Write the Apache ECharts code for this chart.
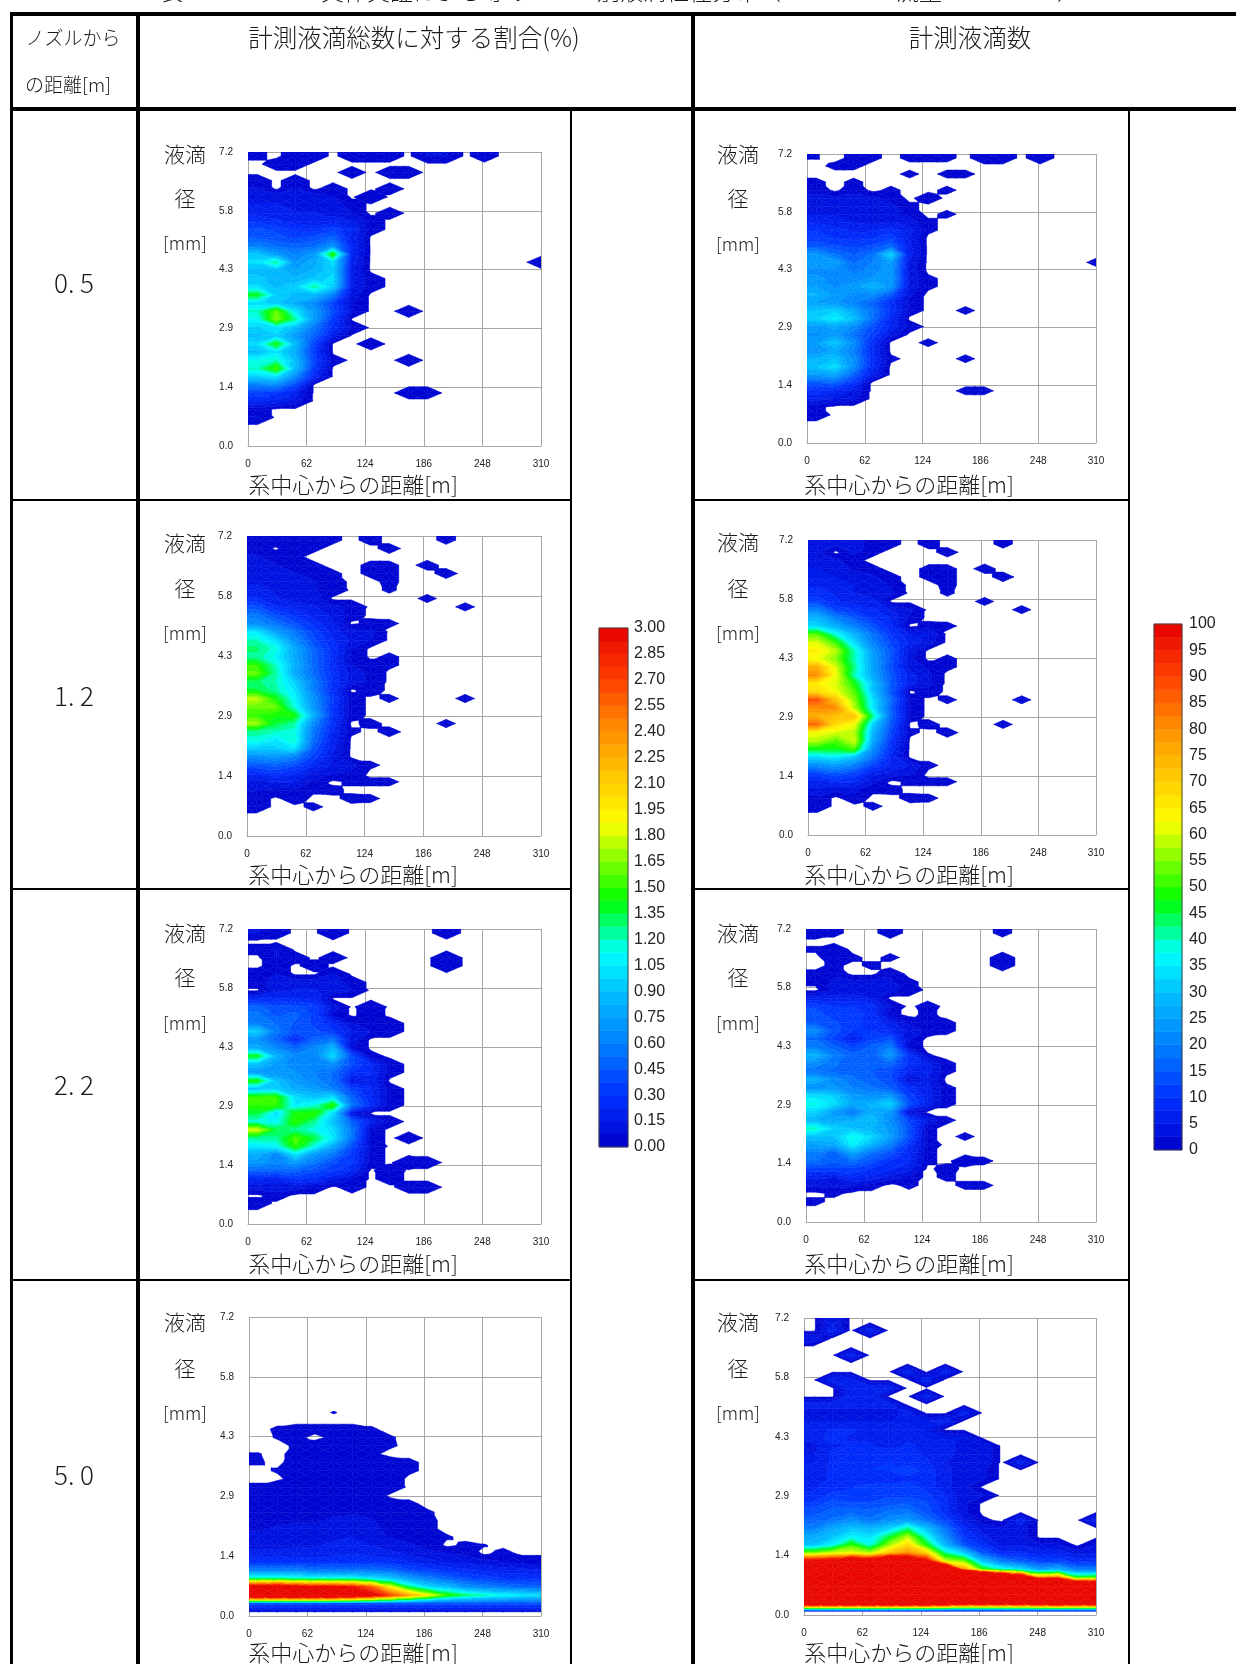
<!DOCTYPE html>
<html><head><meta charset="utf-8">
<style>html,body{margin:0;padding:0;background:#fff}#c{width:1236px;height:1664px}</style>
<script src="https://cdn.jsdelivr.net/npm/echarts@6/dist/echarts.min.js"></script>
</head><body><div id="c"></div>
<script>
// Rows run from y = 7.1 mm down to 0.1 mm in 0.2 steps; columns from x = 10 m to 310 m in 20 steps.
const xNodes=[10,30,50,70,90,110,130,150,170,190,210,230,250,270,290,310];
const yNodes=[7.1,6.9,6.7,6.5,6.3,6.1,5.9,5.7,5.5,5.3,5.1,4.9,4.7,4.5,4.3,4.1,3.9,3.7,3.5,3.3,3.1,2.9,2.7,2.5,2.3,2.1,1.9,1.7,1.5,1.3,1.1,0.9,0.7,0.5,0.3,0.1];
const xTicksMax=310, yTicksMax=7.2;
const distanceLabels=['0. 5','1. 2','2. 2','5. 0'];

// share of all measured droplets, in hundredths of a percent
const pct05=[[2,0,4,4,0,4,4,4,0,8,8,0,4],[0,4,4],[0,0,0,0,0,4,0,4,4],[4,0,4],[8,0,8,0,4,0,0,4],[12,12,12,12,8,0,8],[16,16,12,12,12,4],[20,20,16,16,12,8,0,4],[28,24,20,16,20,16,4],[40,36,28,28,36,24,4],[44,40,36,40,48,20],[60,52,48,52,68,24],[92,72,60,72,150,24],[100,125,68,80,100,20,0,0,0,0,0,0,0,0,0,4],[88,88,76,84,96,16],[92,88,84,92,100,16,4],[100,88,96,125,96,16,4],[140,96,88,88,60,12],[100,92,80,64,36,8],[120,160,105,72,40,8,0,0,4],[110,165,125,72,32],[96,104,88,56,28,8],[88,96,72,48,16],[100,145,88,36,0,0,4],[88,104,80,32],[112,120,88,36,4,0,0,0,4],[120,155,88,32],[96,104,64,24],[60,64,40],[36,32,20,0,0,0,0,0,4,4],[24,20,12],[4],[8]];
const pct12=[[6,6,6,4,2,0,2.5,0,0,0,2],[6,0,6,2,0,0,0,2.5],[8,6,2],[10,8,4,2,0,0,2,2,0,2.5],[10,10,8,6,2,0,2,2,0,0,2.5],[14,12,10,8,4,0,0,2],[18,14,10,8,6,0,0,1.6],[24,16,12,12,0,0,0,0,0,2],[40,24,20,16,10,6,0,0,0,0,0,2],[56,40,30,20,14,4],[66,54,40,28,16,0,2.5,2],[104,76,56,36,20,10,10],[120,100,66,40,24,14,8],[130,116,80,48,28,8],[124,110,80,50,28,6,0,2],[150,120,84,50,26,8,4,2],[160,124,80,52,28,12,6],[130,120,96,60,30,12,6],[136,124,104,60,28,0,4],[176,144,110,68,34,4,0,2,0,0,0,2],[160,160,116,70,30,4],[150,144,144,84,32,4],[170,136,124,64,28,0,2.5,0,0,0,2],[124,120,116,56,24,2,0,2.5],[116,104,120,52,20],[94,94,104,44,18],[66,70,60,36,14],[44,48,40,24,14,10,2],[24,30,24,12,8,6],[14,16,16,6,0,2,2,2],[8,6,6,2,2.5],[4,0,4,0,0,2.5,2],[4,0,0,2]];
const pct22=[[8,4,0,0,6,0,0,0,0,0,4],[],[3,8],[0,8,4,0,4,0,0,0,0,0,6],[0,4,0,4,0,0,0,0,0,0,6],[4,8,0,0,8],[4,12,12,12,12,4],[0,12,16,16,12,8],[24,24,24,20],[48,40,40,36,12,0,6],[56,44,48,36,6,0,4],[60,52,44,36,24,8,2,4],[95,56,40,40,32,16,8,4],[68,48,24,48,56,12],[80,64,48,64,85,8],[140,84,64,60,100,40,3],[90,72,64,60,68,40,24,4],[72,68,68,60,52,28,24,4],[145,90,72,64,52,12,20],[90,95,80,72,60,36,24,4],[150,150,100,90,100,48,24,4],[150,150,105,115,150,56,28,4],[135,100,145,150,100,12],[115,110,150,125,90,48,20,4],[180,135,125,115,100,56,4],[125,125,155,135,105,56,4,0,4],[105,110,150,115,80,40,8],[80,64,105,72,56,32,4],[72,64,72,56,40,32,4,0,8,4],[48,48,48,40,32,24,0,6],[24,20,32,28,16,8,0,4],[12,12,12,6,0,4,0,0,4,4],[0,4],[4]];
const pct50=[[],[],[],[],[],[],[],[],[],[],[],[0,0,0,0,1.2],[],[0,1.6,2.5,2.5,2.5,2.5,1.5],[0,1.3,2,0,2,2.5,1.6,1.4],[0,0,1.6,3,3,3,2.5,1.6],[1.2,0,2.5,3,3,3,1.8],[1.5,0,3,4,4,4,4,3,2],[0,1.5,4,4,4,4,4,4,2],[0,0,3,4,4,4,4,4],[2,5,5,5,5,5,5,5],[3,5,5,5,5,5,5],[4,5,6,6,6,6,6,4,2],[5,6,6,6,7,7,6,5,3,1.5],[6,7,7,7,8,9,8,5,3,2],[7,8,9,9,11,12,9,6,4,2],[9,10,12,11,13,15,10,7,5,4,1.5],[12,12,14,14,17,19,15,11,9,5,0,2,1.2],[18,18,18,18,20,22,20,18,14,10,8,6,0,3],[30,30,30,28,30,30,30,28,22,18,14,14,10,8,5,5],[60,60,60,55,55,55,55,50,40,35,28,25,22,18,18,16],[125,125,120,115,115,115,105,95,75,60,50,40,35,30,30,28],[320,330,310,300,300,290,260,190,130,100,88,70,60,55,50,48],[360,360,360,360,360,340,310,270,230,190,150,130,120,110,105,100],[40,40,40,40,40,40,40,40,40,40,40,40,40,40,40,40],[5,5,5,5,5,5,5,5,5,5,5,5,5,5,5,5]];

// measured droplet counts
const cnt05=[[.6,0,1,1,0,1,1,1,0,2,2,0,2],[0,1,1],[0,0,0,0,0,1,0,1,1],[1,0,1],[2,0,2,0,1,0,0,1],[3,3,3,3,2,0,2],[4,4,3,3,3,1],[5,5,4,4,3,2,0,1],[7,6,5,4,5,4,1],[10,9,7,7,9,6,1],[11,10,9,10,12,5],[15,13,12,13,17,6],[23,18,15,18,33,6],[24,25,17,20,25,5,0,0,0,0,0,0,0,0,0,1],[22,22,19,21,24,4],[23,22,21,23,25,4,1],[25,22,24,28,24,4,1],[28,24,22,22,15,3],[25,23,20,16,9,2],[30,32,26,18,10,2,0,0,1],[32,36,30,18,8],[24,26,22,14,7,2],[22,24,18,12,4],[25,31,22,9,0,0,1],[22,26,20,8],[28,30,22,9,1,0,0,0,1],[30,34,22,8],[24,26,16,6],[15,16,10],[9,8,5,0,0,0,0,0,1,1],[6,5,3],[1],[2]];
const cnt12=[[3,3,3,2,1,0,1.2,0,0,0,1],[3,0,3,1,0,0,0,1.2],[4,3,1],[5,4,2,1,0,0,1,1,0,1.2],[5,5,4,3,1,0,1,1,0,0,1.2],[7,6,5,4,2,0,0,1],[9,7,5,4,3,0,0,.8],[12,8,6,6,0,0,0,0,0,1],[20,12,10,8,5,3,0,0,0,0,0,1],[28,20,15,10,7,2],[33,27,20,14,8,0,1.2,1],[52,38,28,18,10,5,5],[60,50,33,20,12,7,4],[65,58,40,24,14,4],[62,55,40,25,14,3,0,1],[75,60,42,25,13,4,2,1],[80,62,40,26,14,6,3],[65,60,48,30,15,6,3],[68,62,52,30,14,0,2],[88,72,55,34,17,2,0,1,0,0,0,1],[80,80,58,35,15,2],[75,72,72,42,16,2],[85,68,62,32,14,0,1.2,0,0,0,1],[62,60,58,28,12,1,0,1.2],[58,52,60,26,10],[47,47,52,22,9],[33,35,30,18,7],[22,24,20,12,7,5,1],[12,15,12,6,4,3],[7,8,8,3,0,1,1,1],[4,3,3,1,1.2],[2,0,2,0,0,1.2,1],[2,0,0,1]];
const cnt22=[[2,1,0,0,1.5,0,0,0,0,0,1],[],[.8,2],[0,2,1,0,1,0,0,0,0,0,1.5],[0,1,0,1,0,0,0,0,0,0,1.5],[1,2,0,0,2],[1,3,3,3,3,1],[0,3,4,4,3,2],[6,6,6,5],[12,10,10,9,3,0,1.5],[14,11,12,9,1.2,0,1],[15,13,11,9,6,2,.5,1],[22,14,10,10,8,4,2,1],[17,12,6,12,14,3],[20,16,12,16,20,2],[28,20,16,15,24,10,.7],[22,18,16,15,17,10,6,1],[18,17,17,15,13,7,6,1],[28,22,18,16,13,3,5],[22,23,20,18,15,9,6,1],[34,32,24,22,24,12,6,1],[38,34,26,28,33,14,7,1],[32,24,18,27,24,3],[28,26,27,30,22,12,5,1],[40,32,30,28,24,14,1],[30,30,38,33,25,14,1,0,1],[25,26,36,28,20,10,2],[20,16,26,18,14,8,1],[18,16,18,14,10,8,1,0,2,1],[12,12,12,10,8,6,0,1.5],[6,5,8,7,4,2,0,1],[3,3,3,1.5,0,1,0,0,1,1],[0,1],[1]];
const cnt50=[[0,5],[0,7,0,7],[5],[],[0,0,7],[],[0,0,0,0,0,7,0,7],[0,7,7,0,0,0,7],[0,0,7,7,7],[0,0,7,7,0,0,7],[7,7,7,7,7],[3,3,3,3,3,7,0,0,7],[5,5,5,5,5,5,5,7],[6,8,8,6,6,6,5],[6,9,7,7,6,7,5,5,5],[4,7,8,8,6,8,7,6,4,5],[5,8,8,9,10,9,7,6,4,5],[5,8,8,8,10,9,8,5,4,5,0,7],[6,8,10,10,10,12,9,6,3,3],[6,8,9,8,9,9,9,6,3,3],[7,9,10,11,11,12,9,6,3],[8,11,10,10,12,12,11,8,3,3],[11,14,13,13,14,15,13,8,3],[14,16,17,16,18,19,14,9,3],[16,18,22,18,22,24,18,12,5,1,0,7,0,0,0,7],[20,26,30,28,32,42,30,18,8,4,3,4],[26,30,36,34,45,58,38,22,10,6,3,4],[30,36,50,38,56,68,48,28,14,9,4,5,3,3,0,3],[55,60,62,58,72,80,70,42,32,15,8,8,7,7,4,5],[105,110,125,115,140,125,105,60,55,30,20,16,12,12,9,9],[300,300,300,300,300,300,300,150,80,50,40,35,25,28,20,20],[300,300,300,300,300,300,300,300,300,200,160,130,80,85,50,52],[300,300,300,300,300,300,300,300,300,300,300,300,300,300,150,150],[300,300,300,300,300,300,300,300,300,300,300,300,300,300,300,300],[130,130,130,130,130,130,130,125,115,115,115,115,120,125,120,120],[5,5,5,5,5,5,5,5,5,5,5,5,5,5,5,5]];

const pctScaleTop=300, cntScaleTop=100, bandCount=40;

const anchors=[[0,[0,0,204]],[.1,[0,48,255]],[.2,[0,128,255]],[.3,[0,192,255]],[.375,[0,255,255]],[.475,[0,255,0]],[.625,[255,255,0]],[.8,[255,144,0]],[.9,[255,64,0]],[1,[230,0,0]]];
function colorAt(t){
  for(let i=1;i<anchors.length;i++){
    if(t<=anchors[i][0]){
      const a=anchors[i-1],b=anchors[i],f=(t-a[0])/(b[0]-a[0]);
      return 'rgb('+a[1].map((c,k)=>Math.round(c+(b[1][k]-c)*f)).join(',')+')';
    }
  }
  return 'rgb(230,0,0)';
}
const bandColors=[];
for(let i=0;i<bandCount;i++) bandColors.push(colorAt((i+.5)/bandCount));

function clipAt(poly,level,keepAbove){
  const out=[];
  for(let i=0;i<poly.length;i++){
    const p=poly[i],q=poly[(i+1)%poly.length];
    const pIn=keepAbove?p[2]>=level:p[2]<=level, qIn=keepAbove?q[2]>=level:q[2]<=level;
    if(pIn) out.push(p);
    if(pIn!==qIn){
      const f=(level-p[2])/(q[2]-p[2]);
      out.push([p[0]+(q[0]-p[0])*f,p[1]+(q[1]-p[1])*f,level]);
    }
  }
  return out;
}
function cellsOf(table){
  const val=(r,c)=>{const row=table[Math.max(r,0)]||[];return row[Math.max(c,0)]||0;};
  const xs=[0].concat(xNodes), ys=[yTicksMax].concat(yNodes), cells=[];
  for(let r=0;r<ys.length-1;r++){
    for(let c=0;c<xs.length-1;c++){
      cells.push([xs[c],ys[r+1],xs[c+1],ys[r],
        val(r,c-1),val(r,c),val(r-1,c),val(r-1,c-1)]);
    }
  }
  return cells;
}
function fieldRenderer(scaleTop,floor){
  const step=scaleTop/bandCount;
  return function(params,api){
    const v=[api.value(4),api.value(5),api.value(6),api.value(7)];
    if(Math.max(v[0],v[1],v[2],v[3])<=floor) return null;
    const a=api.coord([api.value(0),api.value(1)]),c=api.coord([api.value(2),api.value(3)]);
    const P=[[a[0],a[1],v[0]],[c[0],a[1],v[1]],[c[0],c[1],v[2]],[a[0],c[1],v[3]]];
    const sorted=v.slice().sort((m,n)=>m-n);
    const E=[(a[0]+c[0])/2,(a[1]+c[1])/2,(sorted[1]+sorted[2])/2];
    const children=[];
    for(let t=0;t<4;t++){
      const tri=[P[t],P[(t+1)%4],E];
      const tMin=Math.min(tri[0][2],tri[1][2],tri[2][2]),tMax=Math.max(tri[0][2],tri[1][2],tri[2][2]);
      if(tMax<=floor) continue;
      for(let b=0;b<bandCount;b++){
        const lo=Math.max(floor,b*step),hi=b===bandCount-1?Infinity:(b+1)*step;
        if(hi<=lo||hi<tMin||lo>tMax) continue;
        let poly=clipAt(tri,lo,true);
        if(hi!==Infinity&&poly.length) poly=clipAt(poly,hi,false);
        if(poly.length<3) continue;
        children.push({type:'polygon',shape:{points:poly.map(p=>[p[0],p[1]])},
          style:{fill:bandColors[b],stroke:bandColors[b],lineWidth:.5},silent:true});
      }
    }
    return {type:'group',children};
  };
}

const plots=[
 {t:pct05,top:pctScaleTop,floor:1,box:[248,152,541,446]},
 {t:cnt05,top:cntScaleTop,floor:.5,box:[807,154,1096,443]},
 {t:pct12,top:pctScaleTop,floor:1,box:[247,536,541,836]},
 {t:cnt12,top:cntScaleTop,floor:.5,box:[808,540,1096,835]},
 {t:pct22,top:pctScaleTop,floor:1,box:[248,929,541,1224]},
 {t:cnt22,top:cntScaleTop,floor:.5,box:[806,929,1096,1222]},
 {t:pct50,top:pctScaleTop,floor:1,box:[249,1317,541,1616]},
 {t:cnt50,top:cntScaleTop,floor:.5,box:[804,1318,1096,1615]}
];
const tickFont="'Liberation Sans Narrow','Liberation Sans',sans-serif";
const grid=[],xAxis=[],yAxis=[],series=[];
plots.forEach((p,i)=>{
  const [x0,y0,x1,y1]=p.box;
  grid.push({left:x0,top:y0,width:x1-x0,height:y1-y0,show:false});
  xAxis.push({type:'value',gridIndex:i,min:0,max:xTicksMax,interval:62,
    axisLine:{show:true,lineStyle:{color:'#a6a6a6',width:1}},axisTick:{show:false},
    splitLine:{show:true,lineStyle:{color:'#a6a6a6',width:1}},
    axisLabel:{fontSize:10,color:'#222',margin:13,fontFamily:tickFont,showMaxLabel:true,showMinLabel:true}});
  yAxis.push({type:'value',gridIndex:i,min:0,max:yTicksMax,interval:1.44,
    axisLine:{show:false},axisTick:{show:false},
    splitLine:{show:true,lineStyle:{color:'#a6a6a6',width:1}},
    axisLabel:{fontSize:10,color:'#222',margin:15,fontFamily:tickFont,showMaxLabel:true,showMinLabel:true,formatter:v=>v.toFixed(1)}});
  series.push({type:'custom',xAxisIndex:i,yAxisIndex:i,coordinateSystem:'cartesian2d',clip:true,silent:true,
    encode:{x:[0,2],y:[1,3]},data:cellsOf(p.t),renderItem:fieldRenderer(p.top,p.floor),animation:false});
});

// colour scale bars
const scaleBars=[
 {box:[599,628,628,1147],top:3,interval:.15,digits:2,margin:6},
 {box:[1154,624,1182,1150],top:100,interval:5,digits:0,margin:7}
];
scaleBars.forEach((s,k)=>{
  const idx=plots.length+k,[x0,y0,x1,y1]=s.box;
  grid.push({left:x0,top:y0,width:x1-x0,height:y1-y0,show:true,borderColor:'#444',borderWidth:1,backgroundColor:'transparent',z:5});
  xAxis.push({type:'value',gridIndex:idx,min:0,max:1,show:false});
  yAxis.push({type:'value',gridIndex:idx,min:0,max:s.top,interval:s.interval,position:'right',
    axisLine:{show:false},axisTick:{show:false},splitLine:{show:false},
    axisLabel:{fontSize:16,color:'#222',margin:s.margin,fontFamily:tickFont,showMaxLabel:true,showMinLabel:true,formatter:v=>v.toFixed(s.digits)}});
  const rows=bandColors.map((c,i)=>[0,i*s.top/bandCount,1,(i+1)*s.top/bandCount,i]);
  series.push({type:'custom',xAxisIndex:idx,yAxisIndex:idx,coordinateSystem:'cartesian2d',silent:true,animation:false,
    encode:{x:[0,2],y:[1,3]},data:rows,
    renderItem:(params,api)=>{
      const a=api.coord([api.value(0),api.value(1)]),b=api.coord([api.value(2),api.value(3)]);
      const c=bandColors[api.value(4)];
      return {type:'rect',shape:{x:a[0],y:b[1],width:b[0]-a[0],height:a[1]-b[1]},style:{fill:c,stroke:c,lineWidth:.5}};
    }});
});

// table rules and page text
const g=[];
const bar=(x,y,w,h)=>g.push({type:'rect',shape:{x,y,width:w,height:h},style:{fill:'#000'},z:20,silent:true});
bar(10,12,1226,4); bar(10,107,1226,4);
bar(10,12,3,1652); bar(136,12,4,1652); bar(691,12,4,1652);
bar(570,110,2,1554); bar(1128,110,2,1554);
[499,888,1279].forEach(y=>{bar(10,y,562,2);bar(691,y,439,2);});
const cjk="'Noto Sans CJK JP','Noto Sans',sans-serif";
const text=(s,x,y,size,align)=>g.push({type:'text',x,y,z:21,silent:true,
  style:{text:s,fontFamily:cjk,fontSize:size,fontWeight:300,fill:'#1a1a1a',align:align||'center',verticalAlign:'middle'}});
text('表　　　　　　実体実証による等の　　　別液滴粒径分布（　　　　　流量　　　　　）',620,-9,23);
text('ノズルから',73,38,19); text('の距離[m]',68,85,19);
text('計測液滴総数に対する割合(%)',414,38,24.5);
text('計測液滴数',970,38,24.5);
distanceLabels.forEach((s,i)=>text(s,74,[283,696,1085,1475][i],26));
const vRows=[[154,198,243],[543,588,633],[933,977,1023],[1322,1368,1413]];
const vRowsR=[[154,198,244],[542,588,633],[933,977,1023],[1322,1368,1413]];
const xTitleY=[485,875,1264,1653];
for(let r=0;r<4;r++){
  ['液滴','径','[mm]'].forEach((s,k)=>{
    text(s,185,vRows[r][k],k===2?18:21);
    text(s,738,vRowsR[r][k],k===2?18:21);
  });
  text('系中心からの距離[m]',353,xTitleY[r],22);
  text('系中心からの距離[m]',909,xTitleY[r],22);
}

const chart=echarts.init(document.getElementById('c'),null,{renderer:'canvas',width:1236,height:1664});
chart.setOption({animation:false,backgroundColor:'#fff',tooltip:{show:false},grid,xAxis,yAxis,series,graphic:{elements:g}});
</script></body></html>
